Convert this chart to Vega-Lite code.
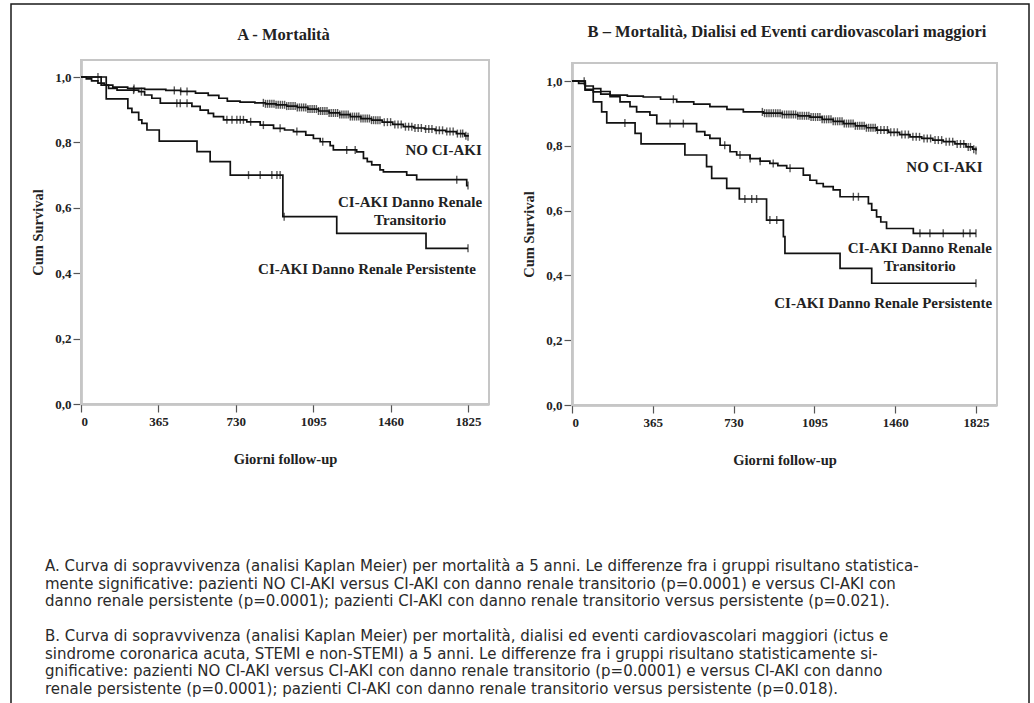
{
  "$schema": "https://vega.github.io/schema/vega-lite/v6.json",
  "width": 1034,
  "height": 703,
  "autosize": {"type": "none"},
  "padding": 0,
  "background": "white",
  "config": {"view": {"stroke": null}, "font": "Liberation Serif"},
  "datasets": {
    "A_steps": [
      {"g":"NO","t":0,"s":1},{"g":"NO","t":25,"s":0.994},{"g":"NO","t":50,"s":0.988},{"g":"NO","t":80,"s":0.981},{"g":"NO","t":110,"s":0.975},{"g":"NO","t":150,"s":0.969},{"g":"NO","t":220,"s":0.965},{"g":"NO","t":300,"s":0.962},{"g":"NO","t":400,"s":0.959},{"g":"NO","t":470,"s":0.956},{"g":"NO","t":540,"s":0.951},{"g":"NO","t":600,"s":0.944},{"g":"NO","t":650,"s":0.935},{"g":"NO","t":690,"s":0.926},{"g":"NO","t":750,"s":0.923},{"g":"NO","t":820,"s":0.921},{"g":"NO","t":870,"s":0.918},{"g":"NO","t":920,"s":0.915},{"g":"NO","t":970,"s":0.911},{"g":"NO","t":1020,"s":0.907},{"g":"NO","t":1070,"s":0.902},{"g":"NO","t":1120,"s":0.896},{"g":"NO","t":1170,"s":0.89},{"g":"NO","t":1220,"s":0.885},{"g":"NO","t":1270,"s":0.879},{"g":"NO","t":1320,"s":0.873},{"g":"NO","t":1370,"s":0.868},{"g":"NO","t":1420,"s":0.862},{"g":"NO","t":1470,"s":0.855},{"g":"NO","t":1520,"s":0.848},{"g":"NO","t":1570,"s":0.844},{"g":"NO","t":1620,"s":0.841},{"g":"NO","t":1670,"s":0.837},{"g":"NO","t":1720,"s":0.833},{"g":"NO","t":1770,"s":0.827},{"g":"NO","t":1810,"s":0.82},{"g":"NO","t":1825,"s":0.817},
      {"g":"TR","t":0,"s":1},{"g":"TR","t":95,"s":0.975},{"g":"TR","t":130,"s":0.965},{"g":"TR","t":170,"s":0.96},{"g":"TR","t":272,"s":0.955},{"g":"TR","t":300,"s":0.945},{"g":"TR","t":334,"s":0.935},{"g":"TR","t":374,"s":0.92},{"g":"TR","t":523,"s":0.91},{"g":"TR","t":562,"s":0.899},{"g":"TR","t":600,"s":0.889},{"g":"TR","t":625,"s":0.879},{"g":"TR","t":672,"s":0.869},{"g":"TR","t":782,"s":0.863},{"g":"TR","t":845,"s":0.853},{"g":"TR","t":908,"s":0.843},{"g":"TR","t":960,"s":0.838},{"g":"TR","t":1002,"s":0.833},{"g":"TR","t":1060,"s":0.822},{"g":"TR","t":1096,"s":0.812},{"g":"TR","t":1128,"s":0.802},{"g":"TR","t":1175,"s":0.79},{"g":"TR","t":1190,"s":0.777},{"g":"TR","t":1300,"s":0.771},{"g":"TR","t":1332,"s":0.751},{"g":"TR","t":1350,"s":0.741},{"g":"TR","t":1371,"s":0.731},{"g":"TR","t":1410,"s":0.716},{"g":"TR","t":1426,"s":0.71},{"g":"TR","t":1536,"s":0.7},{"g":"TR","t":1583,"s":0.686},{"g":"TR","t":1819,"s":0.668},{"g":"TR","t":1825,"s":0.668},
      {"g":"PE","t":0,"s":1},{"g":"PE","t":119,"s":0.933},{"g":"PE","t":221,"s":0.904},{"g":"PE","t":240,"s":0.892},{"g":"PE","t":272,"s":0.869},{"g":"PE","t":287,"s":0.858},{"g":"PE","t":311,"s":0.838},{"g":"PE","t":369,"s":0.804},{"g":"PE","t":547,"s":0.772},{"g":"PE","t":609,"s":0.741},{"g":"PE","t":704,"s":0.7},{"g":"PE","t":952,"s":0.573},{"g":"PE","t":1206,"s":0.522},{"g":"PE","t":1627,"s":0.476},{"g":"PE","t":1825,"s":0.476}
    ],
    "A_cens": [
      {"g":"NO","t":250,"s":0.965},{"g":"NO","t":440,"s":0.959},{"g":"NO","t":470,"s":0.956},{"g":"NO","t":500,"s":0.956},
      {"g":"NO","t":860,"s":0.921},{"g":"NO","t":870,"s":0.918},{"g":"NO","t":880,"s":0.918},{"g":"NO","t":890,"s":0.918},{"g":"NO","t":900,"s":0.918},{"g":"NO","t":910,"s":0.918},{"g":"NO","t":920,"s":0.915},{"g":"NO","t":930,"s":0.915},{"g":"NO","t":940,"s":0.915},{"g":"NO","t":950,"s":0.915},{"g":"NO","t":960,"s":0.915},{"g":"NO","t":970,"s":0.911},{"g":"NO","t":980,"s":0.911},{"g":"NO","t":990,"s":0.911},{"g":"NO","t":1000,"s":0.911},{"g":"NO","t":1010,"s":0.911},{"g":"NO","t":1020,"s":0.907},{"g":"NO","t":1030,"s":0.907},{"g":"NO","t":1040,"s":0.907},{"g":"NO","t":1050,"s":0.907},{"g":"NO","t":1060,"s":0.907},{"g":"NO","t":1070,"s":0.902},{"g":"NO","t":1080,"s":0.902},{"g":"NO","t":1090,"s":0.902},{"g":"NO","t":1100,"s":0.902},{"g":"NO","t":1110,"s":0.902},{"g":"NO","t":1120,"s":0.896},{"g":"NO","t":1130,"s":0.896},{"g":"NO","t":1140,"s":0.896},{"g":"NO","t":1150,"s":0.896},{"g":"NO","t":1160,"s":0.896},{"g":"NO","t":1170,"s":0.89},{"g":"NO","t":1180,"s":0.89},{"g":"NO","t":1190,"s":0.89},{"g":"NO","t":1200,"s":0.89},{"g":"NO","t":1210,"s":0.89},{"g":"NO","t":1220,"s":0.885},{"g":"NO","t":1230,"s":0.885},{"g":"NO","t":1240,"s":0.885},{"g":"NO","t":1250,"s":0.885},{"g":"NO","t":1260,"s":0.885},{"g":"NO","t":1270,"s":0.879},{"g":"NO","t":1280,"s":0.879},{"g":"NO","t":1290,"s":0.879},{"g":"NO","t":1300,"s":0.879},{"g":"NO","t":1310,"s":0.879},{"g":"NO","t":1320,"s":0.873},{"g":"NO","t":1330,"s":0.873},{"g":"NO","t":1340,"s":0.873},{"g":"NO","t":1350,"s":0.873},{"g":"NO","t":1360,"s":0.873},{"g":"NO","t":1370,"s":0.868},{"g":"NO","t":1380,"s":0.868},{"g":"NO","t":1390,"s":0.868},{"g":"NO","t":1400,"s":0.868},{"g":"NO","t":1410,"s":0.868},
      {"g":"NO","t":1430,"s":0.862},{"g":"NO","t":1445,"s":0.862},{"g":"NO","t":1460,"s":0.862},{"g":"NO","t":1480,"s":0.855},{"g":"NO","t":1495,"s":0.855},{"g":"NO","t":1510,"s":0.855},{"g":"NO","t":1530,"s":0.848},{"g":"NO","t":1545,"s":0.848},{"g":"NO","t":1560,"s":0.848},{"g":"NO","t":1575,"s":0.844},{"g":"NO","t":1590,"s":0.844},{"g":"NO","t":1605,"s":0.844},{"g":"NO","t":1625,"s":0.841},{"g":"NO","t":1640,"s":0.841},{"g":"NO","t":1655,"s":0.841},{"g":"NO","t":1675,"s":0.837},{"g":"NO","t":1690,"s":0.837},{"g":"NO","t":1705,"s":0.837},{"g":"NO","t":1725,"s":0.833},{"g":"NO","t":1740,"s":0.833},{"g":"NO","t":1755,"s":0.833},{"g":"NO","t":1775,"s":0.827},{"g":"NO","t":1790,"s":0.827},{"g":"NO","t":1800,"s":0.827},{"g":"NO","t":1815,"s":0.82},{"g":"NO","t":1825,"s":0.817},
      {"g":"TR","t":80,"s":1},{"g":"TR","t":248,"s":0.96},{"g":"TR","t":285,"s":0.955},{"g":"TR","t":452,"s":0.92},{"g":"TR","t":468,"s":0.92},{"g":"TR","t":500,"s":0.92},{"g":"TR","t":688,"s":0.869},{"g":"TR","t":712,"s":0.869},{"g":"TR","t":735,"s":0.869},{"g":"TR","t":751,"s":0.869},{"g":"TR","t":766,"s":0.869},{"g":"TR","t":800,"s":0.863},{"g":"TR","t":860,"s":0.853},{"g":"TR","t":939,"s":0.843},{"g":"TR","t":1018,"s":0.833},{"g":"TR","t":1140,"s":0.802},{"g":"TR","t":1253,"s":0.777},{"g":"TR","t":1293,"s":0.777},{"g":"TR","t":1772,"s":0.686},{"g":"TR","t":1825,"s":0.668},
      {"g":"PE","t":790,"s":0.7},{"g":"PE","t":845,"s":0.7},{"g":"PE","t":900,"s":0.7},{"g":"PE","t":924,"s":0.7},{"g":"PE","t":939,"s":0.7},{"g":"PE","t":958,"s":0.573},{"g":"PE","t":1825,"s":0.476}
    ],
    "B_steps": [
      {"g":"NO","t":0,"s":1},{"g":"NO","t":30,"s":0.993},{"g":"NO","t":60,"s":0.985},{"g":"NO","t":96,"s":0.977},{"g":"NO","t":130,"s":0.968},{"g":"NO","t":172,"s":0.957},{"g":"NO","t":250,"s":0.954},{"g":"NO","t":322,"s":0.951},{"g":"NO","t":400,"s":0.944},{"g":"NO","t":473,"s":0.936},{"g":"NO","t":550,"s":0.929},{"g":"NO","t":623,"s":0.921},{"g":"NO","t":700,"s":0.913},{"g":"NO","t":774,"s":0.905},{"g":"NO","t":864,"s":0.901},{"g":"NO","t":950,"s":0.897},{"g":"NO","t":1020,"s":0.893},{"g":"NO","t":1075,"s":0.889},{"g":"NO","t":1130,"s":0.882},{"g":"NO","t":1180,"s":0.876},{"g":"NO","t":1226,"s":0.869},{"g":"NO","t":1280,"s":0.862},{"g":"NO","t":1330,"s":0.856},{"g":"NO","t":1376,"s":0.849},{"g":"NO","t":1430,"s":0.842},{"g":"NO","t":1480,"s":0.835},{"g":"NO","t":1527,"s":0.828},{"g":"NO","t":1580,"s":0.823},{"g":"NO","t":1630,"s":0.818},{"g":"NO","t":1677,"s":0.813},{"g":"NO","t":1730,"s":0.806},{"g":"NO","t":1780,"s":0.797},{"g":"NO","t":1810,"s":0.79},{"g":"NO","t":1825,"s":0.786},
      {"g":"TR","t":0,"s":1},{"g":"TR","t":60,"s":0.975},{"g":"TR","t":96,"s":0.967},{"g":"TR","t":130,"s":0.96},{"g":"TR","t":172,"s":0.952},{"g":"TR","t":217,"s":0.936},{"g":"TR","t":262,"s":0.921},{"g":"TR","t":292,"s":0.905},{"g":"TR","t":352,"s":0.895},{"g":"TR","t":383,"s":0.869},{"g":"TR","t":563,"s":0.844},{"g":"TR","t":600,"s":0.833},{"g":"TR","t":623,"s":0.823},{"g":"TR","t":669,"s":0.802},{"g":"TR","t":714,"s":0.782},{"g":"TR","t":744,"s":0.772},{"g":"TR","t":804,"s":0.761},{"g":"TR","t":850,"s":0.753},{"g":"TR","t":894,"s":0.746},{"g":"TR","t":930,"s":0.739},{"g":"TR","t":970,"s":0.731},{"g":"TR","t":1045,"s":0.71},{"g":"TR","t":1075,"s":0.694},{"g":"TR","t":1105,"s":0.684},{"g":"TR","t":1135,"s":0.674},{"g":"TR","t":1180,"s":0.664},{"g":"TR","t":1211,"s":0.643},{"g":"TR","t":1339,"s":0.622},{"g":"TR","t":1354,"s":0.602},{"g":"TR","t":1376,"s":0.581},{"g":"TR","t":1395,"s":0.565},{"g":"TR","t":1421,"s":0.545},{"g":"TR","t":1542,"s":0.53},{"g":"TR","t":1825,"s":0.53},
      {"g":"PE","t":0,"s":1},{"g":"PE","t":59,"s":0.972},{"g":"PE","t":96,"s":0.936},{"g":"PE","t":134,"s":0.905},{"g":"PE","t":157,"s":0.871},{"g":"PE","t":285,"s":0.839},{"g":"PE","t":312,"s":0.806},{"g":"PE","t":510,"s":0.772},{"g":"PE","t":608,"s":0.736},{"g":"PE","t":631,"s":0.7},{"g":"PE","t":699,"s":0.669},{"g":"PE","t":756,"s":0.636},{"g":"PE","t":879,"s":0.571},{"g":"PE","t":955,"s":0.52},{"g":"PE","t":962,"s":0.468},{"g":"PE","t":1211,"s":0.422},{"g":"PE","t":1354,"s":0.376},{"g":"PE","t":1825,"s":0.376}
    ],
    "B_cens": [
      {"g":"NO","t":458,"s":0.944},
      {"g":"NO","t":860,"s":0.905},{"g":"NO","t":870,"s":0.901},{"g":"NO","t":880,"s":0.901},{"g":"NO","t":890,"s":0.901},{"g":"NO","t":900,"s":0.901},{"g":"NO","t":910,"s":0.901},{"g":"NO","t":920,"s":0.901},{"g":"NO","t":930,"s":0.901},{"g":"NO","t":940,"s":0.901},{"g":"NO","t":950,"s":0.897},{"g":"NO","t":960,"s":0.897},{"g":"NO","t":970,"s":0.897},{"g":"NO","t":980,"s":0.897},{"g":"NO","t":990,"s":0.897},{"g":"NO","t":1000,"s":0.897},{"g":"NO","t":1010,"s":0.897},{"g":"NO","t":1020,"s":0.893},{"g":"NO","t":1030,"s":0.893},{"g":"NO","t":1040,"s":0.893},{"g":"NO","t":1050,"s":0.893},{"g":"NO","t":1060,"s":0.893},{"g":"NO","t":1070,"s":0.893},{"g":"NO","t":1080,"s":0.889},{"g":"NO","t":1090,"s":0.889},{"g":"NO","t":1100,"s":0.889},{"g":"NO","t":1110,"s":0.889},{"g":"NO","t":1120,"s":0.889},{"g":"NO","t":1130,"s":0.882},{"g":"NO","t":1140,"s":0.882},{"g":"NO","t":1150,"s":0.882},{"g":"NO","t":1160,"s":0.882},{"g":"NO","t":1170,"s":0.882},{"g":"NO","t":1180,"s":0.876},{"g":"NO","t":1190,"s":0.876},{"g":"NO","t":1200,"s":0.876},{"g":"NO","t":1210,"s":0.876},{"g":"NO","t":1220,"s":0.876},{"g":"NO","t":1230,"s":0.869},{"g":"NO","t":1240,"s":0.869},{"g":"NO","t":1250,"s":0.869},{"g":"NO","t":1260,"s":0.869},{"g":"NO","t":1270,"s":0.869},{"g":"NO","t":1280,"s":0.862},{"g":"NO","t":1290,"s":0.862},{"g":"NO","t":1300,"s":0.862},{"g":"NO","t":1310,"s":0.862},{"g":"NO","t":1320,"s":0.862},{"g":"NO","t":1330,"s":0.856},{"g":"NO","t":1340,"s":0.856},{"g":"NO","t":1350,"s":0.856},{"g":"NO","t":1360,"s":0.856},{"g":"NO","t":1370,"s":0.856},{"g":"NO","t":1380,"s":0.849},
      {"g":"NO","t":1395,"s":0.849},{"g":"NO","t":1410,"s":0.849},{"g":"NO","t":1425,"s":0.849},{"g":"NO","t":1440,"s":0.842},{"g":"NO","t":1455,"s":0.842},{"g":"NO","t":1470,"s":0.842},{"g":"NO","t":1490,"s":0.835},{"g":"NO","t":1505,"s":0.835},{"g":"NO","t":1520,"s":0.835},{"g":"NO","t":1540,"s":0.828},{"g":"NO","t":1555,"s":0.828},{"g":"NO","t":1570,"s":0.828},{"g":"NO","t":1590,"s":0.823},{"g":"NO","t":1605,"s":0.823},{"g":"NO","t":1620,"s":0.823},{"g":"NO","t":1640,"s":0.818},{"g":"NO","t":1655,"s":0.818},{"g":"NO","t":1670,"s":0.818},{"g":"NO","t":1690,"s":0.813},{"g":"NO","t":1705,"s":0.813},{"g":"NO","t":1720,"s":0.813},{"g":"NO","t":1740,"s":0.806},{"g":"NO","t":1755,"s":0.806},{"g":"NO","t":1770,"s":0.806},{"g":"NO","t":1790,"s":0.797},{"g":"NO","t":1800,"s":0.797},{"g":"NO","t":1815,"s":0.79},{"g":"NO","t":1825,"s":0.786},
      {"g":"TR","t":55,"s":1},{"g":"TR","t":443,"s":0.869},{"g":"TR","t":503,"s":0.869},{"g":"TR","t":690,"s":0.802},{"g":"TR","t":759,"s":0.772},{"g":"TR","t":805,"s":0.761},{"g":"TR","t":850,"s":0.753},{"g":"TR","t":909,"s":0.746},{"g":"TR","t":985,"s":0.731},{"g":"TR","t":1271,"s":0.643},{"g":"TR","t":1294,"s":0.643},{"g":"TR","t":1572,"s":0.53},{"g":"TR","t":1617,"s":0.53},{"g":"TR","t":1677,"s":0.53},{"g":"TR","t":1768,"s":0.53},{"g":"TR","t":1798,"s":0.53},{"g":"TR","t":1825,"s":0.53},
      {"g":"PE","t":239,"s":0.871},{"g":"PE","t":781,"s":0.636},{"g":"PE","t":812,"s":0.636},{"g":"PE","t":834,"s":0.636},{"g":"PE","t":894,"s":0.571},{"g":"PE","t":925,"s":0.571},{"g":"PE","t":1825,"s":0.376}
    ],
    "caption": [
      {"line":1,"text":"A. Curva di sopravvivenza (analisi Kaplan Meier) per mortalità a 5 anni. Le differenze fra i gruppi risultano statistica-"},
      {"line":2,"text":"\u00a0\u00a0\u00a0mente significative: pazienti NO CI-AKI versus CI-AKI con danno renale transitorio (p=0.0001) e versus CI-AKI con"},
      {"line":3,"text":"\u00a0\u00a0\u00a0danno renale persistente (p=0.0001); pazienti CI-AKI con danno renale transitorio versus persistente (p=0.021)."},
      {"line":5,"text":"B. Curva di sopravvivenza (analisi Kaplan Meier) per mortalità, dialisi ed eventi cardiovascolari maggiori (ictus e"},
      {"line":6,"text":"\u00a0\u00a0\u00a0sindrome coronarica acuta, STEMI e non-STEMI) a 5 anni. Le differenze fra i gruppi risultano statisticamente si-"},
      {"line":7,"text":"\u00a0\u00a0\u00a0gnificative: pazienti NO CI-AKI versus CI-AKI con danno renale transitorio (p=0.0001) e versus CI-AKI con danno"},
      {"line":8,"text":"\u00a0\u00a0\u00a0renale persistente (p=0.0001); pazienti CI-AKI con danno renale transitorio versus persistente (p=0.018)."}
    ]
  },
  "resolve": {
    "scale": {"x": "independent", "y": "independent"},
    "axis": {"x": "independent", "y": "independent"}
  },
  "layer": [
    {
      "data": {"values": [{}]},
      "mark": {"type": "rect", "fill": null, "stroke": "#1a1a1a", "strokeWidth": 1.5},
      "encoding": {
        "x": {"datum": 0, "type": "quantitative", "scale": {"domain": [0, 1], "range": [11, 1029]}, "axis": null},
        "x2": {"datum": 1},
        "y": {"datum": 0, "type": "quantitative", "scale": {"domain": [0, 1], "range": [730, 4]}, "axis": null},
        "y2": {"datum": 1}
      }
    },
    {
      "layer": [
        {
          "data": {"values": [{}]},
          "mark": {"type": "rect", "fill": null, "stroke": "#c6c6c6", "strokeWidth": 2},
          "encoding": {
            "x": {"datum": 0, "type": "quantitative"},
            "x2": {"datum": 1924},
            "y": {"datum": 0, "type": "quantitative"},
            "y2": {"datum": 1.052}
          }
        },
        {
          "data": {"name": "A_steps"},
          "mark": {"type": "line", "interpolate": "step-after", "color": "#111", "strokeWidth": 1.7},
          "encoding": {
            "x": {"field": "t", "type": "quantitative",
              "scale": {"domain": [0, 1924], "range": [81, 489], "nice": false, "zero": false},
              "axis": {"orient": "bottom", "offset": -299, "values": [0, 365, 730, 1095, 1460, 1825], "format": "d",
                "tickSize": 8, "tickColor": "#555", "tickWidth": 1.2, "domainColor": "#9a9a9a", "domainWidth": 2,
                "labelFont": "Liberation Serif", "labelFontWeight": "bold", "labelFontSize": 13, "labelColor": "#222", "labelPadding": 3,
                "title": "Giorni follow-up", "titleFont": "Liberation Serif", "titleFontWeight": "bold", "titleFontSize": 14.5, "titleColor": "#222", "titlePadding": 24, "grid": false}},
            "y": {"field": "s", "type": "quantitative",
              "scale": {"domain": [0, 1.052], "range": [404, 60], "nice": false, "zero": false},
              "axis": {"orient": "left", "offset": -81, "values": [0, 0.2, 0.4, 0.6, 0.8, 1], "labelExpr": "replace(format(datum.value, '.1f'), '.', ',')",
                "tickSize": 8, "tickColor": "#555", "tickWidth": 1.2, "domainColor": "#9a9a9a", "domainWidth": 2,
                "labelFont": "Liberation Serif", "labelFontWeight": "bold", "labelFontSize": 13, "labelColor": "#222", "labelPadding": 2,
                "title": "Cum Survival", "titleFont": "Liberation Serif", "titleFontWeight": "bold", "titleFontSize": 14.5, "titleColor": "#222", "titlePadding": 9, "grid": false}},
            "detail": {"field": "g"}
          }
        },
        {
          "data": {"name": "A_cens"},
          "mark": {"type": "tick", "orient": "vertical", "size": 8, "thickness": 1.4, "color": "#111"},
          "encoding": {
            "x": {"field": "t", "type": "quantitative"},
            "y": {"field": "s", "type": "quantitative"}
          }
        },
        {
          "data": {"values": [{}]},
          "mark": {"type": "text", "text": "A - Mortalità", "font": "Liberation Serif", "fontWeight": "bold", "fontSize": 16.5, "color": "#222", "align": "center", "baseline": "middle"},
          "encoding": {"x": {"datum": 955, "type": "quantitative"}, "y": {"datum": 1.128, "type": "quantitative"}}
        },
        {
          "data": {"values": [{}]},
          "mark": {"type": "text", "text": "NO CI-AKI", "font": "Liberation Serif", "fontWeight": "bold", "fontSize": 15, "color": "#222", "align": "right", "baseline": "middle"},
          "encoding": {"x": {"datum": 1890, "type": "quantitative"}, "y": {"datum": 0.777, "type": "quantitative"}}
        },
        {
          "data": {"values": [{}]},
          "mark": {"type": "text", "text": ["CI-AKI Danno Renale", "Transitorio"], "lineHeight": 18, "font": "Liberation Serif", "fontWeight": "bold", "fontSize": 15, "color": "#222", "align": "center", "baseline": "middle"},
          "encoding": {"x": {"datum": 1552, "type": "quantitative"}, "y": {"datum": 0.617, "type": "quantitative"}}
        },
        {
          "data": {"values": [{}]},
          "mark": {"type": "text", "text": "CI-AKI Danno Renale Persistente", "font": "Liberation Serif", "fontWeight": "bold", "fontSize": 15, "color": "#222", "align": "center", "baseline": "middle"},
          "encoding": {"x": {"datum": 1349, "type": "quantitative"}, "y": {"datum": 0.412, "type": "quantitative"}}
        }
      ]
    },
    {
      "layer": [
        {
          "data": {"values": [{}]},
          "mark": {"type": "rect", "fill": null, "stroke": "#c6c6c6", "strokeWidth": 2},
          "encoding": {
            "x": {"datum": 0, "type": "quantitative"},
            "x2": {"datum": 1920},
            "y": {"datum": 0, "type": "quantitative"},
            "y2": {"datum": 1.056}
          }
        },
        {
          "data": {"name": "B_steps"},
          "mark": {"type": "line", "interpolate": "step-after", "color": "#111", "strokeWidth": 1.7},
          "encoding": {
            "x": {"field": "t", "type": "quantitative",
              "scale": {"domain": [0, 1920], "range": [572, 997], "nice": false, "zero": false},
              "axis": {"orient": "bottom", "offset": -298, "values": [0, 365, 730, 1095, 1460, 1825], "format": "d",
                "tickSize": 8, "tickColor": "#555", "tickWidth": 1.2, "domainColor": "#9a9a9a", "domainWidth": 2,
                "labelFont": "Liberation Serif", "labelFontWeight": "bold", "labelFontSize": 13, "labelColor": "#222", "labelPadding": 3,
                "title": "Giorni follow-up", "titleFont": "Liberation Serif", "titleFontWeight": "bold", "titleFontSize": 14.5, "titleColor": "#222", "titlePadding": 24, "grid": false}},
            "y": {"field": "s", "type": "quantitative",
              "scale": {"domain": [0, 1.056], "range": [405, 63], "nice": false, "zero": false},
              "axis": {"orient": "left", "offset": -572, "values": [0, 0.2, 0.4, 0.6, 0.8, 1], "labelExpr": "replace(format(datum.value, '.1f'), '.', ',')",
                "tickSize": 8, "tickColor": "#555", "tickWidth": 1.2, "domainColor": "#9a9a9a", "domainWidth": 2,
                "labelFont": "Liberation Serif", "labelFontWeight": "bold", "labelFontSize": 13, "labelColor": "#222", "labelPadding": 2,
                "title": "Cum Survival", "titleFont": "Liberation Serif", "titleFontWeight": "bold", "titleFontSize": 14.5, "titleColor": "#222", "titlePadding": 9, "grid": false}},
            "detail": {"field": "g"}
          }
        },
        {
          "data": {"name": "B_cens"},
          "mark": {"type": "tick", "orient": "vertical", "size": 8, "thickness": 1.4, "color": "#111"},
          "encoding": {
            "x": {"field": "t", "type": "quantitative"},
            "y": {"field": "s", "type": "quantitative"}
          }
        },
        {
          "data": {"values": [{}]},
          "mark": {"type": "text", "text": "B – Mortalità, Dialisi ed Eventi cardiovascolari maggiori", "font": "Liberation Serif", "fontWeight": "bold", "fontSize": 16.5, "color": "#222", "align": "center", "baseline": "middle"},
          "encoding": {"x": {"datum": 971, "type": "quantitative"}, "y": {"datum": 1.151, "type": "quantitative"}}
        },
        {
          "data": {"values": [{}]},
          "mark": {"type": "text", "text": "NO CI-AKI", "font": "Liberation Serif", "fontWeight": "bold", "fontSize": 15, "color": "#222", "align": "right", "baseline": "middle"},
          "encoding": {"x": {"datum": 1855, "type": "quantitative"}, "y": {"datum": 0.7355, "type": "quantitative"}}
        },
        {
          "data": {"values": [{}]},
          "mark": {"type": "text", "text": ["CI-AKI Danno Renale", "Transitorio"], "lineHeight": 18, "font": "Liberation Serif", "fontWeight": "bold", "fontSize": 15, "color": "#222", "align": "center", "baseline": "middle"},
          "encoding": {"x": {"datum": 1571, "type": "quantitative"}, "y": {"datum": 0.484, "type": "quantitative"}}
        },
        {
          "data": {"values": [{}]},
          "mark": {"type": "text", "text": "CI-AKI Danno Renale Persistente", "font": "Liberation Serif", "fontWeight": "bold", "fontSize": 15, "color": "#222", "align": "center", "baseline": "middle"},
          "encoding": {"x": {"datum": 1406, "type": "quantitative"}, "y": {"datum": 0.314, "type": "quantitative"}}
        }
      ]
    },
    {
      "data": {"name": "caption"},
      "mark": {"type": "text", "font": "DejaVu Sans", "fontSize": 15, "color": "#2a2a2a", "align": "left", "baseline": "middle"},
      "encoding": {
        "x": {"datum": 0, "type": "quantitative", "scale": {"domain": [0, 1], "range": [45, 1000]}, "axis": null},
        "y": {"field": "line", "type": "quantitative", "scale": {"domain": [1, 8], "range": [566, 688.5], "nice": false, "zero": false}, "axis": null},
        "text": {"field": "text"}
      }
    }
  ]
}
